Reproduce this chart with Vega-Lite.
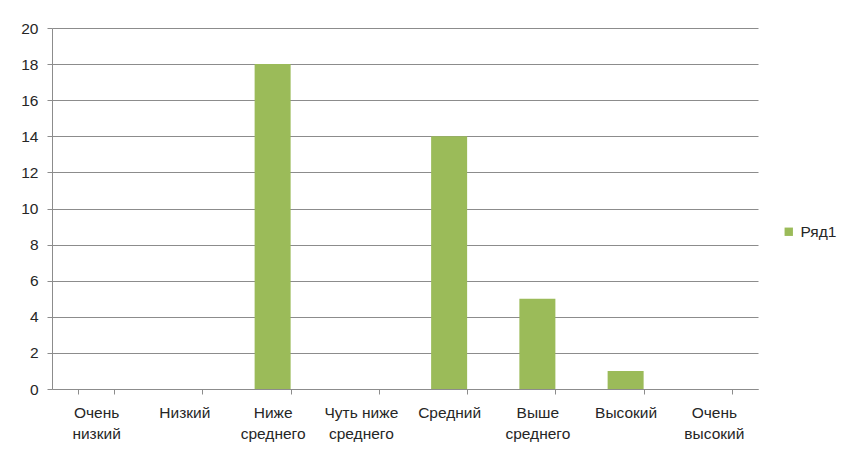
{
  "$schema": "https://vega.github.io/schema/vega-lite/v6.json",
  "autosize": "none",
  "width": 706,
  "height": 361,
  "padding": {"left": 52, "top": 28, "right": 88, "bottom": 60},
  "background": "white",
  "config": {
    "view": {"stroke": null},
    "font": "Liberation Sans"
  },
  "data": {
    "values": [
      {"cat": "Очень низкий", "value": 0, "series": "Ряд1"},
      {"cat": "Низкий", "value": 0, "series": "Ряд1"},
      {"cat": "Ниже среднего", "value": 18, "series": "Ряд1"},
      {"cat": "Чуть ниже среднего", "value": 0, "series": "Ряд1"},
      {"cat": "Средний", "value": 14, "series": "Ряд1"},
      {"cat": "Выше среднего", "value": 5, "series": "Ряд1"},
      {"cat": "Высокий", "value": 1, "series": "Ряд1"},
      {"cat": "Очень высокий", "value": 0, "series": "Ряд1"}
    ]
  },
  "mark": {"type": "bar"},
  "encoding": {
    "x": {
      "field": "cat",
      "type": "nominal",
      "sort": null,
      "scale": {"paddingInner": 0.592, "paddingOuter": 0.296},
      "axis": {
        "title": null,
        "labelAngle": 0,
        "labelFontSize": 15.5,
        "labelColor": "#262626",
        "labelPadding": 11,
        "labelLineHeight": 21,
        "labelBaseline": "top",
        "labelExpr": "datum.label == 'Чуть ниже среднего' ? ['Чуть ниже', 'среднего'] : split(datum.label, ' ')",
        "tickBand": "extent",
        "tickSize": 5,
        "tickColor": "#8c8c8c",
        "domainColor": "#8c8c8c",
        "grid": false
      }
    },
    "y": {
      "field": "value",
      "type": "quantitative",
      "scale": {"domain": [0, 20]},
      "axis": {
        "title": null,
        "values": [0, 2, 4, 6, 8, 10, 12, 14, 16, 18, 20],
        "labelFontSize": 15.5,
        "labelColor": "#262626",
        "labelPadding": 9,
        "tickSize": 5,
        "tickColor": "#8c8c8c",
        "domainColor": "#8c8c8c",
        "gridColor": "#8c8c8c",
        "gridOpacity": 1
      }
    },
    "color": {
      "field": "series",
      "type": "nominal",
      "scale": {"range": ["#9BBB59"]},
      "legend": {
        "title": null,
        "orient": "none",
        "legendX": 729,
        "legendY": 196,
        "padding": 0,
        "symbolType": "square",
        "symbolSize": 70,
        "symbolStrokeWidth": 0,
        "labelFontSize": 15.5,
        "labelColor": "#262626",
        "labelOffset": 4
      }
    }
  }
}
